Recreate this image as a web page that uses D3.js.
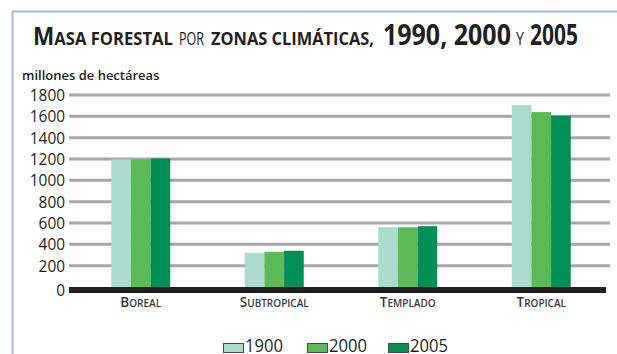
<!DOCTYPE html>
<html>
<head>
<meta charset="utf-8">
<script src="https://cdn.jsdelivr.net/npm/d3@7"></script>
<style>
  html, body { margin: 0; padding: 0; background: #fff; }
  svg { display: block; }
  text { font-family: "Open Sans", "DejaVu Sans", sans-serif; }
</style>
</head>
<body>
<svg id="chart" width="617" height="354"></svg>
<script>
// ---- data ----
const categories = ["Boreal", "Subtropical", "Templado", "Tropical"];
const series = ["1900", "2000", "2005"];
const values1900 = [1195, 320, 560, 1705];
const values2000 = [1195, 330, 560, 1640];
const values2005 = [1205, 340, 570, 1605];
const yTicks = [0, 200, 400, 600, 800, 1000, 1200, 1400, 1600, 1800];
const colors = ["#acdbcd", "#5dbb57", "#008f55"];
const unitLabel = "millones de hectáreas";
const titlePieces = [
  { big: "M", small: "ASA FORESTAL", w: 700 },
  { big: "", small: "POR", w: 400 },
  { big: "", small: "ZONAS CLIMÁTICAS,", w: 700 },
  { big: "1990, 2000", small: "", w: 700 },
  { big: "", small: "Y", w: 400 },
  { big: "2005", small: "", w: 700 }
];
const titleX = [[33, 140], [179, 25], [211, 163], [383, 128], [516, 8], [530, 48]];

const valuesBySeries = [values1900, values2000, values2005];

const svg = d3.select("#chart");

// frame
svg.append("path")
  .attr("d", "M12.5,354 V11.5 H617")
  .attr("fill", "none")
  .attr("stroke", "#a3b6df")
  .attr("stroke-width", 2);

// title: each piece horizontally condensed to its width
const tg = svg.append("g").selectAll("g")
  .data(titlePieces)
  .join("g");
const tt = tg.append("text")
  .attr("x", 0).attr("y", 0)
  .attr("fill", "#231f20")
  .attr("font-weight", d => d.w);
tt.append("tspan").attr("font-size", d => /\d/.test(d.big) ? 28 : 24.5).text(d => d.big);
tt.append("tspan").attr("font-size", 18).text(d => d.small);
tg.each(function(d, i) {
  const t = d3.select(this).select("text").node();
  const natural = t.getComputedTextLength() || titleX[i][1];
  const sx = titleX[i][1] / natural;
  d3.select(this).attr("transform", `translate(${titleX[i][0]},45) scale(${sx},1)`);
});

// unit label
svg.append("text")
  .attr("x", 22).attr("y", 80)
  .attr("font-size", 13).attr("font-weight", 600)
  .attr("fill", "#231f20")
  .text(unitLabel);

// scales
const y = d3.scaleLinear().domain([0, 1800]).range([287, 95]);
const x0 = d3.scalePoint().domain(categories).range([74, 608]).padding(0.5);
const x1 = d3.scaleBand().domain(series).range([-29.5, 29.5]);

// gridlines
svg.append("g").selectAll("line")
  .data(yTicks.filter(d => d > 0))
  .join("line")
  .attr("x1", 69).attr("x2", 610)
  .attr("y1", d => y(d)).attr("y2", d => y(d))
  .attr("stroke", "#a7a7a7").attr("stroke-width", 3);

// tick labels
svg.append("g").selectAll("text")
  .data(yTicks)
  .join("text")
  .attr("x", 65)
  .attr("y", d => d === 0 ? 290 : y(d))
  .attr("dy", "0.36em")
  .attr("text-anchor", "end")
  .attr("font-size", 17)
  .attr("fill", "#231f20")
  .attr("textLength", d => String(d).length * 8.8)
  .attr("lengthAdjust", "spacingAndGlyphs")
  .text(d => d);

// bars
const groups = svg.append("g").selectAll("g")
  .data(categories)
  .join("g")
  .attr("transform", d => `translate(${x0(d)},0)`);
groups.selectAll("rect")
  .data((c, i) => series.map((s, j) => ({ s, j, v: valuesBySeries[j][i] })))
  .join("rect")
  .attr("x", d => x1(d.s))
  .attr("width", x1.bandwidth())
  .attr("y", d => y(d.v))
  .attr("height", d => y(0) - y(d.v) + 1)
  .attr("fill", d => colors[d.j]);

// baseline
svg.append("rect")
  .attr("x", 69).attr("y", 287)
  .attr("width", 537).attr("height", 6)
  .attr("fill", "#231f20");

// category labels (small caps)
const catLabels = svg.append("g").selectAll("text")
  .data(categories)
  .join("text")
  .attr("x", d => x0(d))
  .attr("y", 306.5)
  .attr("text-anchor", "middle")
  .attr("font-weight", 600)
  .attr("fill", "#3a3a3a");
catLabels.append("tspan").attr("font-size", 13.5).text(d => d[0].toUpperCase());
catLabels.append("tspan").attr("font-size", 10).text(d => d.slice(1).toUpperCase());

// legend
const legendX = [223, 307, 388];
const legend = svg.append("g").selectAll("g")
  .data(series)
  .join("g")
  .attr("transform", (d, i) => `translate(${legendX[i]},0)`);
legend.append("rect")
  .attr("x", 0.5).attr("y", 343.5)
  .attr("width", 20).attr("height", 9)
  .attr("fill", (d, i) => colors[i])
  .attr("stroke", "#4a4a4a").attr("stroke-width", 1);
legend.append("text")
  .attr("x", 22).attr("y", 352)
  .attr("font-size", 17.5)
  .attr("fill", "#231f20")
  .attr("textLength", 38)
  .attr("lengthAdjust", "spacingAndGlyphs")
  .text(d => d);
</script>
</body>
</html>
